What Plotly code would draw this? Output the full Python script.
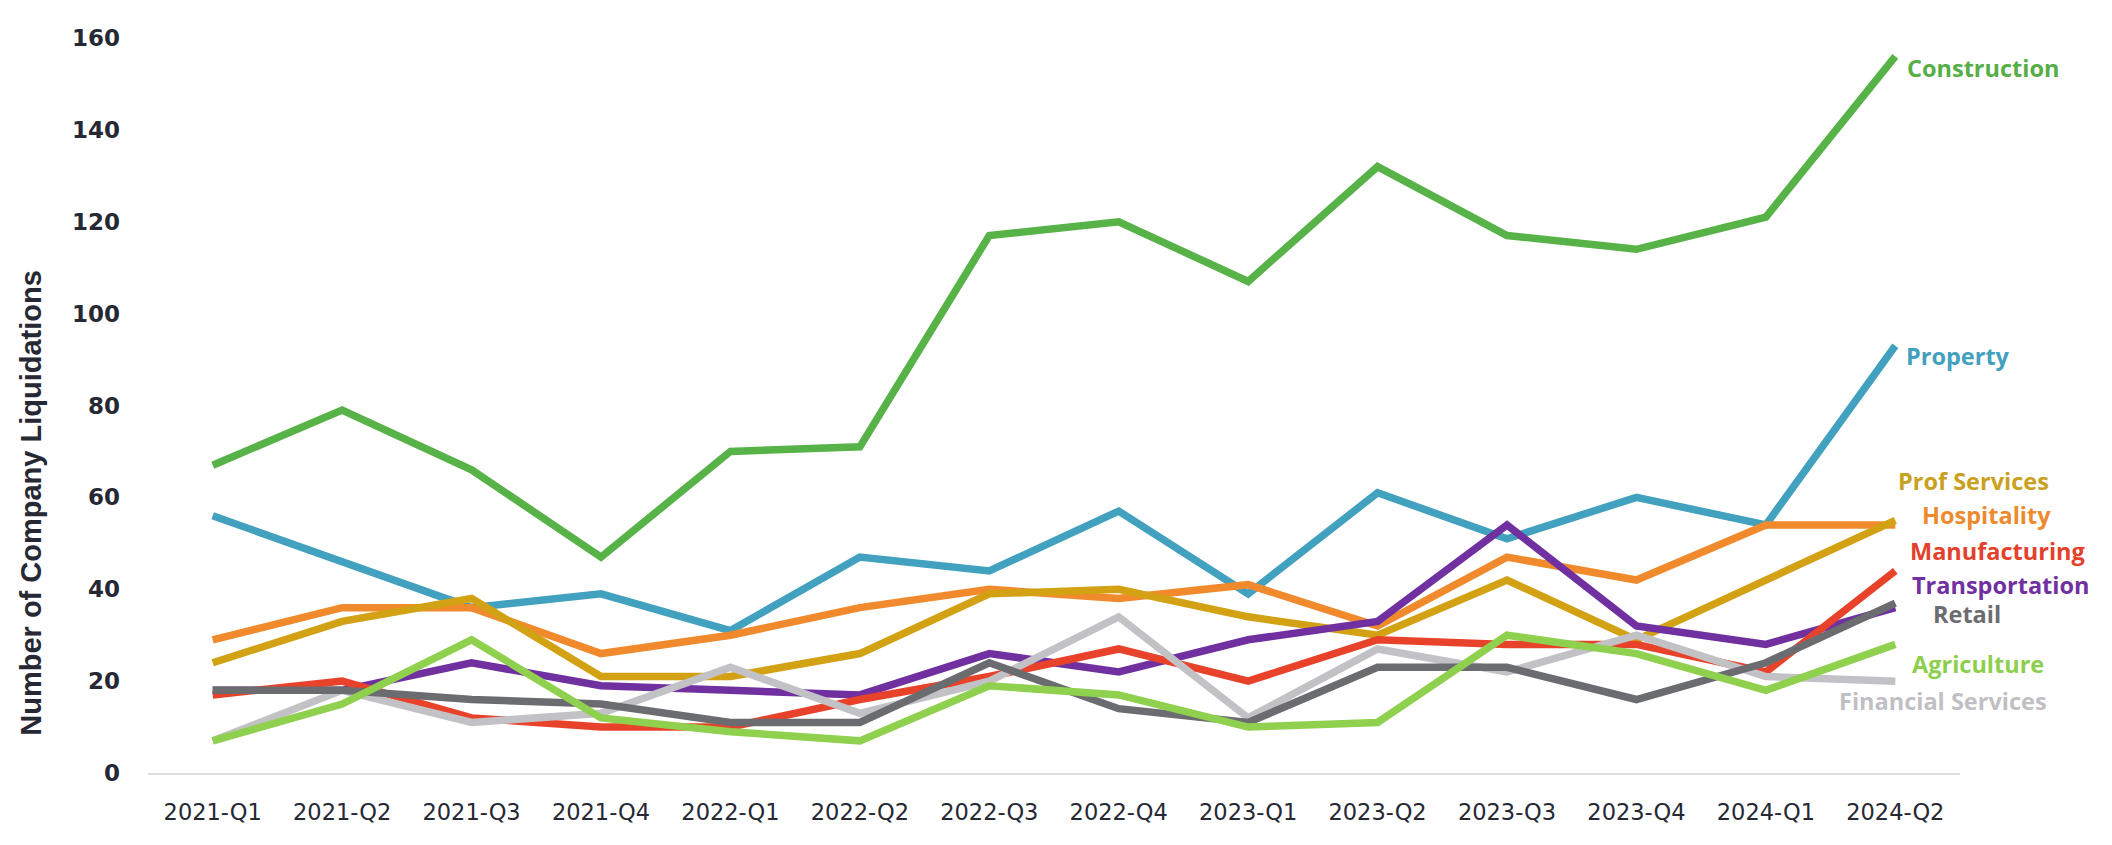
import plotly.graph_objects as go

quarters = ["2021-Q1", "2021-Q2", "2021-Q3", "2021-Q4", "2022-Q1", "2022-Q2", "2022-Q3",
            "2022-Q4", "2023-Q1", "2023-Q2", "2023-Q3", "2023-Q4", "2024-Q1", "2024-Q2"]

construction = [67, 79, 66, 47, 70, 71, 117, 120, 107, 132, 117, 114, 121, 156]
property_ = [56, 46, 36, 39, 31, 47, 44, 57, 39, 61, 51, 60, 54, 93]
hospitality = [29, 36, 36, 26, 30, 36, 40, 38, 41, 32, 47, 42, 54, 54]
prof_services = [24, 33, 38, 21, 21, 26, 39, 40, 34, 30, 42, 29, 42, 55]
manufacturing = [17, 20, 12, 10, 10, 16, 21, 27, 20, 29, 28, 28, 22, 44]
transportation = [18, 18, 24, 19, 18, 17, 26, 22, 29, 33, 54, 32, 28, 36]
retail = [18, 18, 16, 15, 11, 11, 24, 14, 11, 23, 23, 16, 24, 37]
agriculture = [7, 15, 29, 12, 9, 7, 19, 17, 10, 11, 30, 26, 18, 28]
financial = [7, 18, 11, 13, 23, 13, 20, 34, 12, 27, 22, 30, 21, 20]

y_ticks = [0, 20, 40, 60, 80, 100, 120, 140, 160]

# drawing order (bottom to top)
series = [
    ("Construction", construction, "#57B247"),
    ("Property", property_, "#42A1BF"),
    ("Hospitality", hospitality, "#F08A2D"),
    ("Prof Services", prof_services, "#D3A114"),
    ("Transportation", transportation, "#7030A0"),
    ("Manufacturing", manufacturing, "#E8432A"),
    ("Financial Services", financial, "#C2C2C6"),
    ("Retail", retail, "#6B6C70"),
    ("Agriculture", agriculture, "#8FD14F"),
]

label_colors = {
    "Construction": "#55AE46",
    "Property": "#42A0BE",
    "Hospitality": "#EE8A2E",
    "Prof Services": "#C9A020",
    "Manufacturing": "#E4402A",
    "Transportation": "#7030A0",
    "Retail": "#6B6C70",
    "Agriculture": "#8CCF4E",
    "Financial Services": "#BFBFC4",
}

# label placement in page pixels (left edge, vertical centre)
label_pos = {
    "Construction": (1906, 68),
    "Property": (1905, 357),
    "Prof Services": (1897, 482),
    "Hospitality": (1921, 516),
    "Manufacturing": (1909, 552),
    "Transportation": (1911, 586),
    "Retail": (1932, 616),
    "Agriculture": (1911, 666),
    "Financial Services": (1838, 703),
}

OFF = 8  # default page body margin
W, H = 2112 - 2 * OFF, 845 - 2 * OFF
ML, MR, MT, MB = 140, 144, 30, 62
PW, PH = W - ML - MR, H - MT - MB


def paper_x(px):
    return (px - OFF - ML) / PW


def paper_y(py):
    return (H - MB - (py - OFF)) / PH


fig = go.Figure()
for name, vals, col in series:
    fig.add_trace(go.Scatter(x=quarters, y=vals, mode="lines", name=name,
                             line=dict(color=col, width=7.5), showlegend=False))

annotations = []
for name, (px, py) in label_pos.items():
    annotations.append(dict(
        text=name, xref="paper", yref="paper",
        x=paper_x(px), y=paper_y(py), xanchor="left", yanchor="middle",
        showarrow=False, borderpad=0,
        font=dict(family="Open Sans, Arial, sans-serif", size=23.5, weight=700,
                  color=label_colors[name])))

annotations.append(dict(
    text="Number of Company Liquidations", xref="paper", yref="paper",
    x=paper_x(31), y=paper_y(504), xanchor="center", yanchor="middle",
    textangle=-90, showarrow=False,
    font=dict(family="Liberation Sans, Arial, sans-serif", size=29, weight=700,
              color="#262833")))

fig.update_layout(
    width=W, height=H,
    margin=dict(l=ML, r=MR, t=MT, b=MB),
    paper_bgcolor="white", plot_bgcolor="white",
    annotations=annotations,
    xaxis=dict(type="category", range=[-0.5, 13.5], showgrid=False, zeroline=False,
               showline=True, linecolor="#DCDCDC", linewidth=2, ticks="",
               ticklabelstandoff=18,
               tickfont=dict(family="DejaVu Sans, sans-serif", size=22.5, color="#262833")),
    yaxis=dict(range=[0, 160], tickvals=y_ticks, showgrid=False, zeroline=False,
               showline=False, ticks="", ticklabelstandoff=27,
               tickfont=dict(family="DejaVu Sans, sans-serif", size=23, weight=700,
                             color="#262833")),
)

fig.write_html("out.html")
